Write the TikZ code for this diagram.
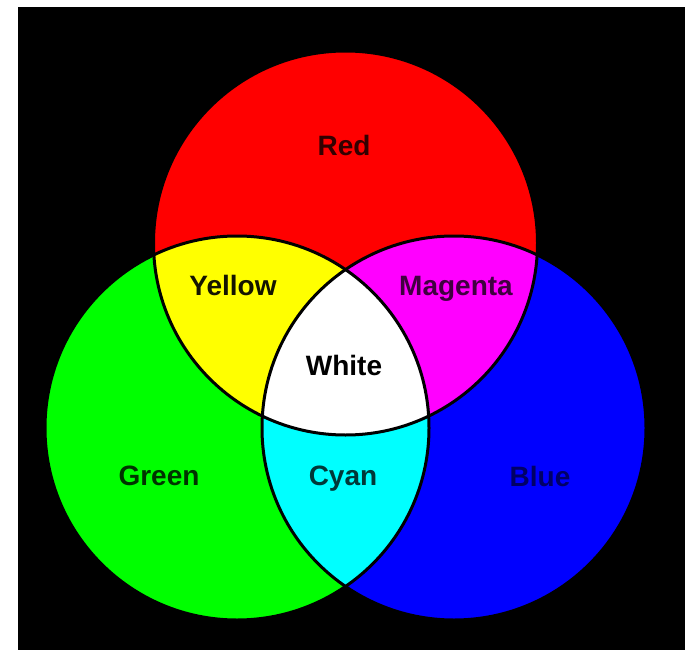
\documentclass[tikz,border=0pt]{standalone}
\usepackage{fontspec}
\setmainfont{Liberation Sans}
\definecolor{cR}{RGB}{255,0,0}
\definecolor{cG}{RGB}{0,255,0}
\definecolor{cB}{RGB}{0,0,255}
\definecolor{cY}{RGB}{255,255,0}
\definecolor{cM}{RGB}{255,0,255}
\definecolor{cC}{RGB}{0,255,255}
\definecolor{cW}{RGB}{255,255,255}
\definecolor{cK}{RGB}{0,0,0}
\begin{document}
\begin{tikzpicture}[x=1pt,y=-1pt,
  lbl/.style={anchor=base, inner sep=0pt, font=\bfseries\fontsize{28}{30}\selectfont},
  ring/.style={draw=cK, line width=3pt}]
\useasboundingbox (0,0) rectangle (690,650);
\fill[cW] (0,0) rectangle (690,650);
\fill[cK] (18,7) rectangle (685,650);
\coordinate (R) at (345.5,243);
\coordinate (G) at (237,428);
\coordinate (B) at (454,428);
\def\rr{192pt}
\fill[cR] (R) circle[radius=\rr];
\fill[cG] (G) circle[radius=\rr];
\fill[cB] (B) circle[radius=\rr];
\begin{scope}
  \clip (R) circle[radius=\rr];
  \fill[cY] (G) circle[radius=\rr];
  \fill[cM] (B) circle[radius=\rr];
\end{scope}
\begin{scope}
  \clip (G) circle[radius=\rr];
  \fill[cC] (B) circle[radius=\rr];
\end{scope}
\begin{scope}
  \clip (R) circle[radius=\rr];
  \clip (G) circle[radius=\rr];
  \fill[cW] (B) circle[radius=\rr];
\end{scope}
\draw[ring] (R) circle[radius=\rr];
\draw[ring] (G) circle[radius=\rr];
\draw[ring] (B) circle[radius=\rr];
\node[lbl, text=cR!20!cK] (tred) at (344,155) {Red};
\node[lbl, text=cY!8!cK] (tyellow) at (233,295) {Yellow};
\node[lbl, text=cM!25!cK] (tmagenta) at (456,295) {Magenta};
\node[lbl, text=cK] (twhite) at (344,375) {White};
\node[lbl, text=cG!20!cK] (tgreen) at (159,485) {Green};
\node[lbl, text=cC!22!cK] (tcyan) at (343,485) {Cyan};
\node[lbl, text=cB!40!cK] (tblue) at (540,486) {Blue};
\end{tikzpicture}
\end{document}
